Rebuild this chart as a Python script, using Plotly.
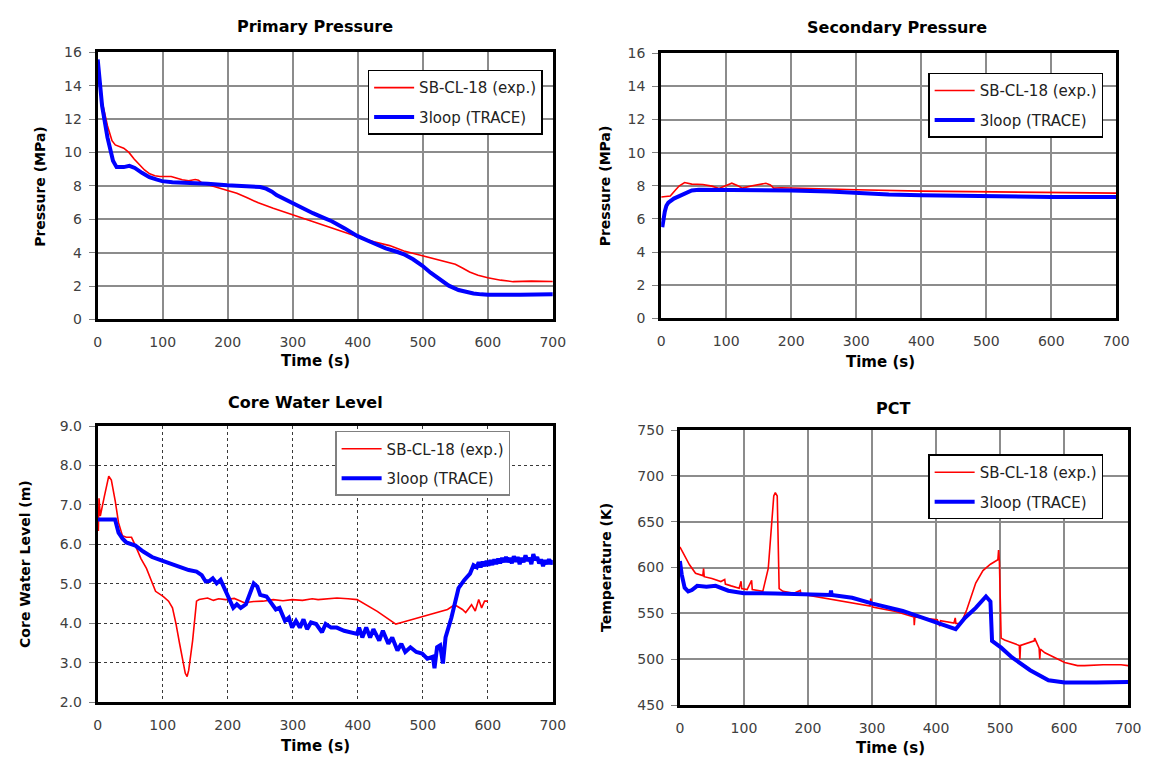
import plotly.graph_objects as go

# ---------------- data ----------------
# Primary pressure (MPa)
pp_exp_t = [0, 3, 7, 15, 22, 27, 40, 48, 56, 63, 72, 80, 88, 96, 105, 113, 122, 130, 140, 150, 155, 161, 175, 190, 200, 214, 230, 247, 270, 299, 325, 348, 375, 399, 425, 449, 471, 500, 528, 550, 561, 572, 585, 600, 620, 639, 667, 700]
pp_exp = [15.3, 14.5, 13.0, 11.6, 10.7, 10.45, 10.25, 10.0, 9.6, 9.3, 8.95, 8.72, 8.6, 8.56, 8.55, 8.56, 8.45, 8.36, 8.3, 8.38, 8.33, 8.15, 8.0, 7.83, 7.74, 7.56, 7.28, 6.98, 6.65, 6.27, 5.93, 5.6, 5.27, 4.96, 4.65, 4.42, 4.1, 3.82, 3.55, 3.3, 3.08, 2.84, 2.65, 2.49, 2.35, 2.26, 2.29, 2.27]
pp_trace_t = [0, 6.7, 15, 23.5, 29, 35, 40, 48.7, 57, 68, 79.5, 90, 99, 115, 135, 169, 199, 236, 250, 259, 268, 275, 290, 299, 315, 331, 345, 360, 380, 399, 421, 443, 460, 471, 485, 499, 512, 527, 540, 555, 567, 578, 590, 600, 650, 700]
pp_trace = [15.57, 12.8, 10.9, 9.5, 9.12, 9.1, 9.12, 9.2, 9.07, 8.78, 8.52, 8.38, 8.28, 8.22, 8.2, 8.13, 8.03, 7.99, 7.93, 7.83, 7.65, 7.44, 7.15, 6.95, 6.66, 6.36, 6.13, 5.88, 5.45, 5.0, 4.62, 4.25, 4.05, 3.9, 3.6, 3.23, 2.8, 2.35, 2.02, 1.76, 1.62, 1.55, 1.5, 1.48, 1.48, 1.5]

# Secondary pressure (MPa)
sp_exp_t = [0, 14, 22, 28, 36, 47, 64, 78, 89, 100, 108.6, 118, 125, 140, 161, 168, 173, 185, 200, 300, 400, 500, 600, 700]
sp_exp = [7.33, 7.39, 7.75, 8.0, 8.2, 8.1, 8.08, 7.98, 7.84, 8.02, 8.16, 8.0, 7.86, 8.0, 8.15, 8.05, 7.86, 7.88, 7.86, 7.76, 7.68, 7.63, 7.58, 7.56]
sp_trace_t = [1.7, 3, 5.6, 8, 11, 19.5, 28, 36, 47, 58, 100, 200, 259, 300, 350, 400, 500, 600, 700]
sp_trace = [5.5, 6.0, 6.45, 6.8, 6.98, 7.23, 7.38, 7.55, 7.72, 7.76, 7.76, 7.72, 7.66, 7.56, 7.48, 7.43, 7.37, 7.33, 7.32]

# Core water level (m)
cwl_exp_t = [0, 1, 2, 4, 10, 17, 21, 27, 32, 38, 44, 52, 58, 66.5, 75, 83.5, 89, 100.6, 109, 115, 120.5, 126, 134.7, 137.5, 140, 146, 152, 156, 162, 169, 178, 186, 197, 210, 225.5, 240, 254, 270, 285, 299, 315, 330, 339, 355, 368, 385, 399, 430, 458.5, 470, 481, 500, 520, 538, 549, 555, 561, 566, 571, 575, 580.7, 586, 590.5, 595, 600]
cwl_exp = [6.9, 6.34, 7.17, 6.72, 7.2, 7.73, 7.63, 7.1, 6.55, 6.22, 6.18, 6.18, 5.97, 5.64, 5.39, 5.06, 4.81, 4.68, 4.56, 4.39, 3.98, 3.48, 2.73, 2.65, 2.81, 3.56, 4.56, 4.6, 4.62, 4.64, 4.58, 4.62, 4.6, 4.63, 4.52, 4.55, 4.56, 4.6, 4.57, 4.6, 4.58, 4.62, 4.6, 4.63, 4.64, 4.62, 4.6, 4.3, 3.98, 4.03, 4.08, 4.18, 4.26, 4.35, 4.47, 4.42, 4.35, 4.27, 4.38, 4.47, 4.31, 4.6, 4.39, 4.56, 4.56]
cwl_trace_t = [0, 26.7, 32, 38, 44, 58, 70, 83.5, 100, 112, 129, 140, 152, 160, 166, 171.6, 177, 183, 189, 197, 203, 208.5, 214, 220, 228, 234, 240, 245.5, 250, 259.6, 265, 274, 279.6, 288, 294, 299, 305, 311, 316.5, 322, 328, 336, 345, 350.6, 359, 367.6, 379, 390, 399, 402, 407, 413, 419, 424, 433, 438.6, 447, 453, 461, 467, 473, 481, 490, 499, 507, 515.5, 518, 522, 526.7, 531, 535, 544, 549.6, 555, 564, 572.7, 578, 583, 586, 589, 592, 595, 598, 601, 604, 607, 610, 613, 616, 619, 622, 625, 628, 631, 634, 637, 640, 643, 646, 649, 652, 655, 658, 661, 664, 667, 670, 673, 676, 679, 682, 685, 688, 691, 694, 697, 700]
cwl_trace = [6.63, 6.63, 6.3, 6.15, 6.05, 5.97, 5.82, 5.68, 5.58, 5.51, 5.39, 5.35, 5.31, 5.22, 5.06, 5.07, 5.14, 5.01, 5.1, 4.81, 4.64, 4.39, 4.48, 4.39, 4.48, 4.72, 5.01, 4.93, 4.72, 4.68, 4.56, 4.35, 4.39, 4.06, 4.14, 3.89, 4.06, 3.89, 4.1, 3.85, 4.02, 3.98, 3.77, 3.98, 3.89, 3.89, 3.81, 3.77, 3.73, 3.89, 3.64, 3.89, 3.64, 3.85, 3.56, 3.81, 3.48, 3.64, 3.31, 3.48, 3.27, 3.39, 3.27, 3.23, 3.1, 3.15, 2.86, 3.39, 3.44, 2.98, 3.64, 4.14, 4.56, 4.89, 5.1, 5.26, 5.47, 5.42, 5.55, 5.42, 5.56, 5.45, 5.58, 5.46, 5.6, 5.48, 5.62, 5.5, 5.64, 5.52, 5.66, 5.55, 5.68, 5.55, 5.66, 5.52, 5.7, 5.56, 5.68, 5.5, 5.66, 5.55, 5.72, 5.58, 5.66, 5.5, 5.75, 5.6, 5.68, 5.52, 5.62, 5.45, 5.6, 5.5, 5.62, 5.5, 5.6, 5.62]

# Peak cladding temperature (K)
pct_exp_t = [0, 7.4, 15, 24.4, 35.8, 37, 38, 50, 64, 70, 71, 80, 92.6, 95.5, 96.5, 105, 112, 113, 126.6, 129.5, 138, 146.6, 149, 152, 155, 161, 178, 188, 189, 201, 235, 269, 297, 298, 301, 337, 365.5, 366, 367, 402, 406, 407, 428, 430, 431, 439, 448, 462, 473.3, 485, 496.6, 497.7, 499, 501.7, 507, 530, 531, 532, 553.4, 554, 561, 562, 563, 570, 587, 601, 621, 632, 661, 689, 700]
pct_exp = [622.4, 613.5, 603, 593.8, 591.2, 599, 590, 588, 584.7, 587, 582, 580, 577.5, 585, 577, 576, 586, 576, 574.5, 574, 599, 678, 681.7, 678, 577, 574, 572, 575, 571, 569.5, 566, 561, 558, 566, 557, 552, 546, 537, 546, 543, 536, 542, 539.5, 545, 539, 539, 554, 583, 596.6, 603.6, 608.5, 619, 606, 523, 521, 515, 500, 515, 520, 523, 512, 500, 511, 507, 501.6, 496.3, 493, 493, 494, 494, 493]
pct_trace_t = [0, 2.8, 7.4, 13, 18.8, 27, 41.5, 55.7, 75.6, 100, 149, 201, 235, 236, 237, 269, 301, 348, 402, 430.7, 445, 462, 478, 485, 487.5, 501.7, 518.7, 547, 575.6, 601, 650, 700]
pct_trace = [607, 592.6, 578, 574, 575.4, 580, 579, 580, 574.7, 572, 571.7, 571, 570, 575, 570, 567, 560.6, 552.6, 540, 532.7, 545, 556, 568.5, 563, 520, 512.6, 502, 488, 477, 474.5, 474.5, 475]

x_ticks = [0, 100, 200, 300, 400, 500, 600, 700]
exp_name = "SB-CL-18 (exp.)"
trace_name = "3loop (TRACE)"

# ---------------- figure ----------------
PAGE_W, PAGE_H = 1157, 769
OFF = 8  # default body margin of the html page
W, H = PAGE_W - 2 * OFF, PAGE_H - 2 * OFF
FONT = "DejaVu Sans"
RED = "#ff0000"
BLUE = "#0000ff"


def px_x(p):
    return (p - OFF) / W


def px_y(p):
    return 1 - (p - OFF) / H


panels = [
    dict(xd=(95, 557), yd=(45, 318), yr=[0, 16], dt=2, fmt="", dot=False, leg=(369, 63),
         t_exp=pp_exp_t, v_exp=pp_exp, t_tr=pp_trace_t, v_tr=pp_trace,
         title="Primary Pressure", title_xy=(316, 19), ylab="Pressure (MPa)", ylab_xy=(37, 182), xlab_xy=(316, 360)),
    dict(xd=(667, 1129), yd=(46, 317), yr=[0, 16], dt=2, fmt="", dot=False, leg=(938, 66),
         t_exp=sp_exp_t, v_exp=sp_exp, t_tr=sp_trace_t, v_tr=sp_trace,
         title="Secondary Pressure", title_xy=(906, 20), ylab="Pressure (MPa)", ylab_xy=(610, 182), xlab_xy=(890, 362)),
    dict(xd=(95, 557), yd=(427, 709), yr=[2, 9], dt=1, fmt=".1f", dot=True, leg=(336, 432),
         t_exp=cwl_exp_t, v_exp=cwl_exp, t_tr=cwl_trace_t, v_tr=cwl_trace,
         title="Core Water Level", title_xy=(306, 403), ylab="Core Water Level (m)", ylab_xy=(21, 568), xlab_xy=(316, 754)),
    dict(xd=(686, 1141), yd=(431, 712), yr=[450, 750], dt=50, fmt="", dot=False, leg=(938, 456),
         t_exp=pct_exp_t, v_exp=pct_exp, t_tr=pct_trace_t, v_tr=pct_trace,
         title="PCT", title_xy=(902, 409), ylab="Temperature (K)", ylab_xy=(611, 572), xlab_xy=(900, 756)),
]

fig = go.Figure()
layout = dict(
    width=W, height=H, margin=dict(l=0, r=0, t=0, b=0),
    paper_bgcolor="white", plot_bgcolor="white",
    font=dict(family=FONT, size=14, color="#404040"),
    showlegend=True, annotations=[],
)

for i, p in enumerate(panels, start=1):
    sfx = "" if i == 1 else str(i)
    leg = "legend" if i == 1 else f"legend{i}"
    fig.add_trace(go.Scatter(x=p["t_exp"], y=p["v_exp"], mode="lines", name=exp_name,
                             line=dict(color=RED, width=1.6), xaxis="x" + sfx, yaxis="y" + sfx,
                             legend=leg, legendgroup=f"e{i}"))
    fig.add_trace(go.Scatter(x=p["t_tr"], y=p["v_tr"], mode="lines", name=trace_name,
                             line=dict(color=BLUE, width=4), xaxis="x" + sfx, yaxis="y" + sfx,
                             legend=leg, legendgroup=f"t{i}"))
    gridc = "#3a3a3a" if p["dot"] else "#8c8c8c"
    gridw = 1 if p["dot"] else 1.6
    gdash = "dot" if p["dot"] else "solid"
    layout["xaxis" + sfx] = dict(
        domain=[px_x(p["xd"][0]), px_x(p["xd"][1])], anchor="y" + sfx,
        range=[0, 700], tickvals=x_ticks, showgrid=True, gridcolor=gridc, gridwidth=gridw, griddash=gdash,
        showline=True, linecolor="black", linewidth=3, mirror=True, zeroline=False,
        ticks="", ticklabelstandoff=8, tickfont=dict(family=FONT, size=14, color="#404040"),
        fixedrange=True,
    )
    layout["yaxis" + sfx] = dict(
        domain=[px_y(p["yd"][1]), px_y(p["yd"][0])], anchor="x" + sfx,
        range=p["yr"], dtick=p["dt"], tickformat=p["fmt"], showgrid=True, gridcolor=gridc,
        gridwidth=gridw, griddash=gdash,
        showline=True, linecolor="black", linewidth=3, mirror=True, zeroline=False,
        ticks="outside", ticklen=6, tickcolor="#808080", tickwidth=1.2, ticklabelstandoff=4,
        tickfont=dict(family=FONT, size=14, color="#404040"), fixedrange=True,
    )
    layout[leg] = dict(
        x=px_x(p["leg"][0]), y=px_y(p["leg"][1]), xanchor="left", yanchor="top",
        bgcolor="white", bordercolor="#808080" if p["dot"] else "black", borderwidth=1.5,
        font=dict(family=FONT, size=15, color="#222222"), traceorder="grouped", tracegroupgap=7,
        itemwidth=40,
    )
    layout["annotations"] += [
        dict(text=f"<b>{p['title']}</b>", x=px_x(p["title_xy"][0]), y=px_y(p["title_xy"][1]),
             xref="paper", yref="paper", showarrow=False, xanchor="center", yanchor="middle",
             font=dict(family=FONT, size=16, color="black")),
        dict(text=f"<b>{p['ylab']}</b>", x=px_x(p["ylab_xy"][0]), y=px_y(p["ylab_xy"][1]),
             xref="paper", yref="paper", showarrow=False, xanchor="center", yanchor="middle",
             textangle=-90, font=dict(family=FONT, size=14, color="black")),
        dict(text="<b>Time (s)</b>", x=px_x(p["xlab_xy"][0]), y=px_y(p["xlab_xy"][1]),
             xref="paper", yref="paper", showarrow=False, xanchor="center", yanchor="middle",
             font=dict(family=FONT, size=15, color="black")),
    ]

fig.update_layout(**layout)
fig.write_html("out.html", config={"displayModeBar": False})
